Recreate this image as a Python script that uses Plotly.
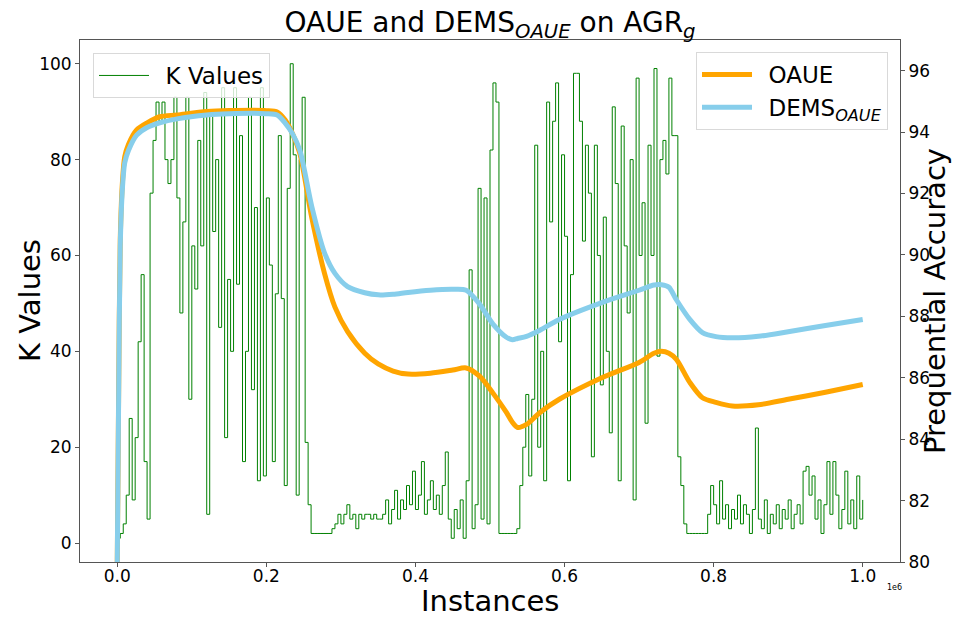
import plotly.graph_objects as go

# ---------------- data ----------------
k_step = 4000  # sampling step of the K series (instances)
k_values = [
    1, 2, 4, 10, 26, 9, 22, 42, 56, 17,
    5, 73, 84, 92, 88, 92, 80, 75, 80, 93,
    72, 48, 67, 93, 30, 62, 53, 84, 62, 94,
    6, 89, 65, 80, 45, 95, 22, 55, 40, 95,
    54, 85, 17, 40, 93, 32, 70, 13, 95, 14,
    72, 58, 17, 52, 85, 51, 12, 74, 100, 81,
    10, 80, 93, 21, 8, 2, 2, 2, 2, 2,
    2, 2, 3, 4, 6, 4, 6, 8, 5, 6,
    3, 6, 5, 6, 6, 5, 6, 5, 5, 6,
    9, 4, 7, 11, 5, 9, 7, 12, 8, 15,
    7, 10, 17, 6, 9, 13, 7, 10, 6, 12,
    19, 5, 1, 7, 3, 9, 1, 13, 57, 3,
    8, 74, 5, 72, 4, 82, 96, 92, 2, 2,
    2, 2, 2, 2, 3, 12, 20, 31, 14, 30,
    83, 20, 40, 13, 92, 67, 88, 96, 42, 81,
    64, 13, 56, 98, 98, 88, 63, 83, 73, 18,
    83, 60, 33, 68, 40, 23, 91, 75, 13, 87,
    62, 48, 80, 9, 97, 60, 71, 25, 83, 60,
    99, 39, 80, 84, 77, 97, 85, 85, 18, 12,
    4, 2, 2, 2, 2, 2, 2, 2, 6, 12,
    8, 4, 13, 5, 8, 3, 7, 5, 10, 4,
    8, 6, 2, 7, 24, 5, 3, 9, 2, 6,
    4, 8, 3, 7, 5, 9, 3, 6, 8, 4,
    15, 16, 10, 14, 5, 9, 2, 8, 17, 6,
    17, 10, 3, 7, 15, 4, 9, 3, 14, 5,
    9,
]
k_instances = [i * k_step for i in range(len(k_values))]

acc_instances = [
    0, 2000, 4000, 7000, 10000, 15000, 26000, 40000, 57000, 80000,
    120000, 150000, 200000, 215000, 225000, 235000, 245000, 261000, 278000, 292000,
    309000, 332000, 350000, 370000, 390000, 420000, 450000, 468000, 486000, 504000,
    522000, 530000, 537000, 549000, 567000, 593000, 650000, 700000, 720000, 730000,
    740000, 750000, 768000, 785000, 803000, 825000, 860000, 900000, 950000, 1000000,
]
oaue_acc = [
    80.0, 86.0, 90.5, 92.4, 93.2, 93.6, 94.07, 94.3, 94.5, 94.56,
    94.67, 94.7, 94.7, 94.65, 94.4, 93.95, 93.3, 91.2, 89.4, 88.3,
    87.5, 86.8, 86.45, 86.22, 86.12, 86.15, 86.25, 86.32, 86.05, 85.5,
    84.87, 84.55, 84.38, 84.48, 84.87, 85.3, 86.0, 86.5, 86.8, 86.86,
    86.8, 86.6, 85.85, 85.35, 85.2, 85.08, 85.12, 85.3, 85.53, 85.78,
]
dems_acc = [
    80.0, 85.8, 90.3, 92.2, 93.0, 93.4, 93.9, 94.15, 94.3, 94.43,
    94.56, 94.6, 94.6, 94.55, 94.3, 93.95, 93.4, 91.57, 90.07, 89.4,
    88.97, 88.77, 88.7, 88.72, 88.78, 88.85, 88.88, 88.85, 88.4, 87.75,
    87.32, 87.24, 87.28, 87.35, 87.55, 87.9, 88.45, 88.85, 89.02, 89.03,
    88.95, 88.54, 87.9, 87.47, 87.34, 87.3, 87.35, 87.5, 87.7, 87.9,
]

x_tickvals = [0, 200000, 400000, 600000, 800000, 1000000]
x_ticktext = ["0.0", "0.2", "0.4", "0.6", "0.8", "1.0"]
k_tickvals = [0, 20, 40, 60, 80, 100]
acc_tickvals = [80, 82, 84, 86, 88, 90, 92, 94, 96]

# ---------------- figure ----------------
FONT = "DejaVu Sans"
AXIS_COLOR = "#555555"
W, H = 960, 617
ML, MR, MT, MB = 80, 60, 40, 55
PW, PH = W - ML - MR, H - MT - MB
GAP = "\u2002"  # spacing between legend line sample and label

fig = go.Figure()
fig.add_trace(go.Scatter(
    x=k_instances, y=k_values, mode="lines", line_shape="hv",
    line=dict(color="#008000", width=1), name=GAP + "K Values",
    yaxis="y", legend="legend",
))
fig.add_trace(go.Scatter(
    x=acc_instances, y=oaue_acc, mode="lines",
    line=dict(color="#FFA500", width=5, shape="spline", smoothing=0.8),
    name=GAP + "OAUE", yaxis="y2", legend="legend2",
))
fig.add_trace(go.Scatter(
    x=acc_instances, y=dems_acc, mode="lines",
    line=dict(color="#87CEEB", width=5, shape="spline", smoothing=0.8),
    name=GAP + "DEMS<sub><i>OAUE</i></sub>", yaxis="y2", legend="legend2",
))

axis_common = dict(
    showgrid=False, zeroline=False, showline=True, linecolor=AXIS_COLOR, linewidth=1,
    ticks="outside", ticklen=4, tickcolor=AXIS_COLOR, tickwidth=1, automargin=False,
    tickfont=dict(family=FONT, size=17, color="black"),
)

title_font = dict(family=FONT, size=29, color="black")

fig.update_layout(
    width=W, height=H,
    margin=dict(l=ML, r=MR, t=MT, b=MB, autoexpand=False),
    paper_bgcolor="white", plot_bgcolor="white",
    font=dict(family=FONT, color="black"),
    title=dict(
        text="OAUE and DEMS<sub><i>OAUE</i></sub> on AGR<sub><i>g</i></sub>",
        xref="container", x=490 / W, xanchor="center",
        yref="container", y=1 - 22 / H, yanchor="middle",
        font=dict(family=FONT, size=28, color="black"),
    ),
    xaxis=dict(
        range=[-50000, 1050000], tickvals=x_tickvals, ticktext=x_ticktext,
        mirror=True, ticklabelstandoff=-5, **axis_common,
    ),
    yaxis=dict(range=[-3.95, 104.95], tickvals=k_tickvals, **axis_common),
    yaxis2=dict(
        range=[80, 97], tickvals=acc_tickvals, overlaying="y", side="right",
        **axis_common,
    ),
    legend=dict(
        x=(93 - ML) / PW, y=1 - (53 - MT) / PH, xanchor="left", yanchor="top",
        bgcolor="rgba(255,255,255,0.8)", bordercolor="#d9d9d9", borderwidth=1,
        font=dict(family=FONT, size=23, color="black"), itemwidth=50,
    ),
    legend2=dict(
        x=(888 - ML) / PW, y=1 - (52 - MT) / PH, xanchor="right", yanchor="top",
        bgcolor="rgba(255,255,255,0.8)", bordercolor="#d9d9d9", borderwidth=1,
        font=dict(family=FONT, size=23, color="black"), itemwidth=50,
    ),
    showlegend=True,
    annotations=[
        dict(text="Instances", xref="paper", yref="paper",
             x=0.5, y=(MT + PH - 601) / PH, xanchor="center", yanchor="middle",
             showarrow=False, font=title_font),
        dict(text="K Values", xref="paper", yref="paper",
             x=(30 - ML) / PW, y=0.5, xanchor="center", yanchor="middle",
             textangle=-90, showarrow=False, font=title_font),
        dict(text="Prequential Accuracy", xref="paper", yref="paper",
             x=(935 - ML) / PW, y=0.5, xanchor="center", yanchor="middle",
             textangle=-90, showarrow=False, font=title_font),
        dict(text="1e6", xref="paper", yref="paper",
             x=(894 - ML) / PW, y=(MT + PH - 587) / PH, xanchor="center", yanchor="middle",
             showarrow=False, font=dict(family=FONT, size=8, color="black")),
    ],
)

fig.write_html(
    "out.html",
    config={"displayModeBar": False},
    post_script="document.body.style.margin='0';document.body.style.overflow='hidden';",
)
